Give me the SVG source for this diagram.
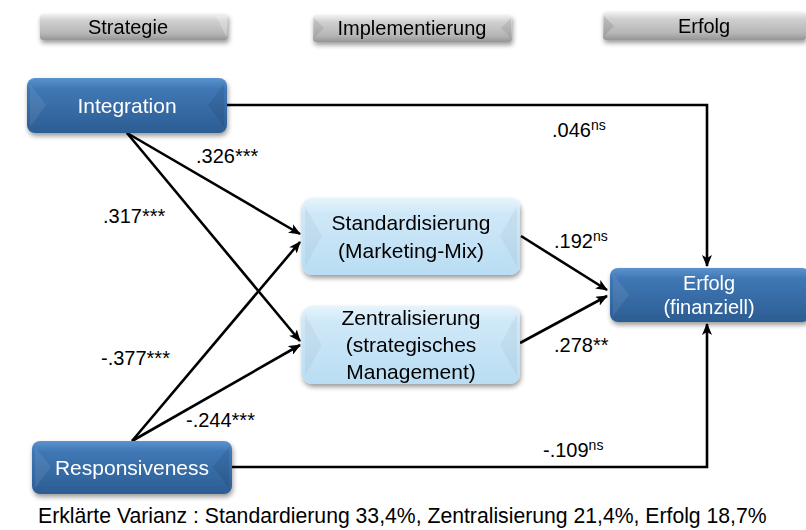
<svg xmlns="http://www.w3.org/2000/svg" width="806" height="530" viewBox="0 0 806 530">
  <defs>
    <style>
      text { font-family: "Liberation Sans", Arial, sans-serif; }
      .tab-label { font-size: 20px; fill: #000; text-anchor: middle; }
      .dark-label { font-size: 21px; fill: #fff; text-anchor: middle; }
      .light-label { font-size: 21px; fill: #000; text-anchor: middle; }
      .coef { font-size: 20px; fill: #000; }
      .sup { font-size: 14px; }
      .caption { font-size: 21.2px; fill: #000; }
      .link { fill: none; stroke: #000; stroke-width: 2.6; }
    </style>
    <linearGradient id="tabGrad" x1="0" y1="0" x2="0" y2="1">
      <stop offset="0" stop-color="#f2f2f2"/>
      <stop offset="0.25" stop-color="#d0d0d0"/>
      <stop offset="0.75" stop-color="#b6b6b6"/>
      <stop offset="1" stop-color="#969696"/>
    </linearGradient>
    <linearGradient id="darkGrad" x1="0" y1="0" x2="0" y2="1">
      <stop offset="0" stop-color="#5b93cf"/>
      <stop offset="0.2" stop-color="#3f77b4"/>
      <stop offset="1" stop-color="#2c5d93"/>
    </linearGradient>
    <linearGradient id="lightGrad" x1="0" y1="0" x2="0" y2="1">
      <stop offset="0" stop-color="#e6f4fc"/>
      <stop offset="0.2" stop-color="#cfe8f8"/>
      <stop offset="1" stop-color="#b9ddf3"/>
    </linearGradient>
    <filter id="shadow" x="-10%" y="-20%" width="120%" height="150%">
      <feGaussianBlur in="SourceAlpha" stdDeviation="2.5"/>
      <feOffset dx="1" dy="3" result="b"/>
      <feComponentTransfer><feFuncA type="linear" slope="0.4"/></feComponentTransfer>
      <feMerge><feMergeNode/><feMergeNode in="SourceGraphic"/></feMerge>
    </filter>
    <marker id="arrow" viewBox="0 0 12 10" refX="11" refY="5" markerWidth="12" markerHeight="10" markerUnits="userSpaceOnUse" orient="auto">
      <path d="M0,0 L12,5 L0,10 L3,5 Z" fill="#000"/>
    </marker>
  </defs>

  <rect width="806" height="530" fill="#fff"/>

  <!-- column headers -->
  <g id="header-strategie" filter="url(#shadow)">
    <rect x="40" y="14" width="188" height="26" rx="3" fill="url(#tabGrad)"/>
    <polygon points="216,16 227,16 227,38" fill="#fff" opacity="0.25"/>
    <text class="tab-label" x="128" y="34">Strategie</text>
  </g>
  <g id="header-implementierung" filter="url(#shadow)">
    <rect x="313" y="15" width="199" height="27" rx="3" fill="url(#tabGrad)"/>
    <polygon points="314,18 324,28 314,38" fill="#000" opacity="0.08"/>
    <polygon points="511,18 501,28 511,38" fill="#000" opacity="0.08"/>
    <text class="tab-label" x="412" y="35">Implementierung</text>
  </g>
  <g id="header-erfolg" filter="url(#shadow)">
    <rect x="603" y="12" width="203" height="28" rx="3" fill="url(#tabGrad)"/>
    <polygon points="604,16 614,26 604,36" fill="#000" opacity="0.1"/>
    <text class="tab-label" x="704" y="33">Erfolg</text>
  </g>

  <!-- connectors -->
  <g id="connectors">
    <path class="link" d="M227,105 H707 V266" marker-end="url(#arrow)"/>
    <path class="link" d="M232,467 H707 V324" marker-end="url(#arrow)"/>
    <line class="link" x1="127" y1="133" x2="300" y2="234" marker-end="url(#arrow)"/>
    <line class="link" x1="127" y1="133" x2="300" y2="341" marker-end="url(#arrow)"/>
    <line class="link" x1="132" y1="441" x2="300" y2="242" marker-end="url(#arrow)"/>
    <line class="link" x1="132" y1="441" x2="300" y2="345" marker-end="url(#arrow)"/>
    <line class="link" x1="521" y1="236" x2="607" y2="290" marker-end="url(#arrow)"/>
    <line class="link" x1="520" y1="343" x2="607" y2="296" marker-end="url(#arrow)"/>
  </g>

  <!-- path coefficients -->
  <g id="coefficients">
    <text class="coef" x="552" y="137">.046<tspan class="sup" dy="-7">ns</tspan></text>
    <text class="coef" x="196" y="163">.326***</text>
    <text class="coef" x="103" y="223">.317***</text>
    <text class="coef" x="101" y="365">-.377***</text>
    <text class="coef" x="186" y="427">-.244***</text>
    <text class="coef" x="554" y="248">.192<tspan class="sup" dy="-7">ns</tspan></text>
    <text class="coef" x="554" y="352">.278**</text>
    <text class="coef" x="543" y="457">-.109<tspan class="sup" dy="-7">ns</tspan></text>
  </g>

  <!-- strategy nodes -->
  <g id="node-integration" filter="url(#shadow)">
    <rect x="27" y="78" width="200" height="55" rx="8" fill="url(#darkGrad)"/>
    <polygon points="30,84 46,105 30,127" fill="#fff" opacity="0.08"/>
    <polygon points="224,84 208,105 224,127" fill="#000" opacity="0.08"/>
    <text class="dark-label" x="127" y="113">Integration</text>
  </g>
  <g id="node-responsiveness" filter="url(#shadow)">
    <rect x="32" y="441" width="200" height="53" rx="8" fill="url(#darkGrad)"/>
    <polygon points="35,447 51,467 35,488" fill="#fff" opacity="0.08"/>
    <polygon points="229,447 213,467 229,488" fill="#000" opacity="0.08"/>
    <text class="dark-label" x="132" y="475">Responsiveness</text>
  </g>

  <!-- implementation nodes -->
  <g id="node-standardisierung" filter="url(#shadow)">
    <rect x="302" y="198" width="218" height="77" rx="10" fill="url(#lightGrad)"/>
    <polygon points="305,206 322,236 305,267" fill="#000" opacity="0.04"/>
    <polygon points="517,206 500,236 517,267" fill="#000" opacity="0.04"/>
    <text class="light-label" x="411" y="230">Standardisierung</text>
    <text class="light-label" x="411" y="258">(Marketing-Mix)</text>
  </g>
  <g id="node-zentralisierung" filter="url(#shadow)">
    <rect x="302" y="306" width="218" height="78" rx="10" fill="url(#lightGrad)"/>
    <polygon points="305,314 322,345 305,376" fill="#000" opacity="0.04"/>
    <polygon points="517,314 500,345 517,376" fill="#000" opacity="0.04"/>
    <text class="light-label" x="411" y="325">Zentralisierung</text>
    <text class="light-label" x="411" y="352">(strategisches</text>
    <text class="light-label" x="411" y="379">Management)</text>
  </g>

  <!-- outcome node -->
  <g id="node-erfolg" filter="url(#shadow)">
    <rect x="610" y="268" width="200" height="54" rx="8" fill="url(#darkGrad)"/>
    <polygon points="613,274 629,295 613,316" fill="#fff" opacity="0.08"/>
    <text class="dark-label" x="709" y="290" style="font-size:20px">Erfolg</text>
    <text class="dark-label" x="709" y="314" style="font-size:20px">(finanziell)</text>
  </g>

  <text class="caption" x="38" y="523">Erklärte Varianz : Standardierung 33,4%, Zentralisierung 21,4%, Erfolg 18,7%</text>
</svg>
